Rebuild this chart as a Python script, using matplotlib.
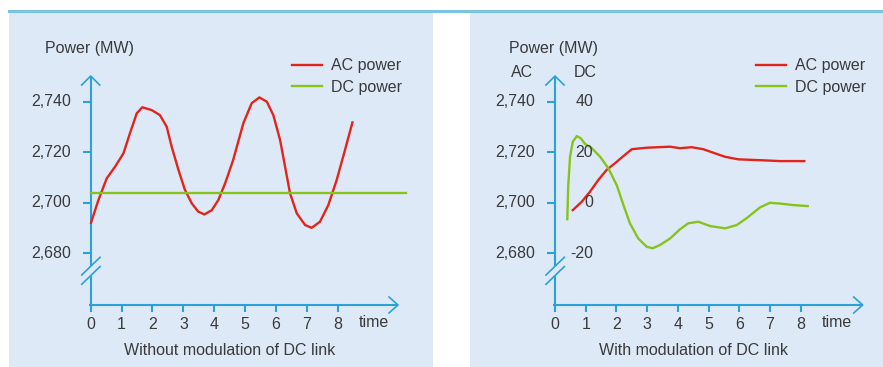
import matplotlib.pyplot as plt
import numpy as np

plt.rcParams['font.family'] = ['Liberation Sans', 'DejaVu Sans']

# left panel: without modulation (time, MW)
t_ac1 = [0.01, 0.25, 0.52, 0.79, 1.06, 1.27, 1.49, 1.67, 1.97, 2.24, 2.46, 2.62, 2.84,
         3.05, 3.27, 3.48, 3.68, 3.92, 4.13, 4.35, 4.61, 4.94, 5.21, 5.46, 5.70, 5.91,
         6.13, 6.29, 6.45, 6.67, 6.94, 7.15, 7.42, 7.69, 7.96, 8.23, 8.47]
ac1 = [2692.1, 2701.1, 2709.7, 2714.3, 2719.6, 2727.5, 2735.4, 2737.8, 2736.7, 2734.7,
       2730.1, 2722.2, 2713.0, 2705.1, 2699.8, 2696.5, 2695.4, 2697.1, 2701.1, 2707.7,
       2716.9, 2731.5, 2739.4, 2741.7, 2740.0, 2734.7, 2724.8, 2714.3, 2703.8, 2695.8,
       2691.2, 2690.1, 2692.5, 2699.1, 2709.0, 2720.9, 2731.8]
t_dc1 = [0, 10.2]
dc1 = [2704.0, 2704.0]

# right panel: with modulation
t_ac2 = [0.58, 0.87, 1.14, 1.41, 1.68, 1.95, 2.23, 2.50, 2.99, 3.75, 4.07, 4.45, 4.83,
         5.16, 5.54, 5.97, 6.79, 7.33, 8.12]
ac2 = [2697.1, 2700.4, 2704.4, 2709.0, 2713.0, 2715.6, 2718.5, 2721.2, 2721.8, 2722.2,
       2721.6, 2722.0, 2721.2, 2719.8, 2718.2, 2717.2, 2716.8, 2716.5, 2716.5]
t_dc2 = [0.40, 0.43, 0.49, 0.58, 0.71, 0.84, 0.98, 1.20, 1.47, 1.74, 2.01, 2.23, 2.44,
         2.71, 2.99, 3.18, 3.42, 3.75, 4.07, 4.34, 4.67, 5.05, 5.54, 5.92, 6.24, 6.68,
         7.00, 7.33, 7.76, 8.23]
dc2 = [-6.5, 6.4, 18.2, 24.2, 26.4, 25.5, 23.3, 21.6, 18.2, 13.6, 7.0, -0.9, -8.1,
       -14.1, -17.4, -18.0, -16.7, -14.1, -10.5, -8.1, -7.5, -9.2, -10.1, -8.8, -6.1,
       -1.8, 0.0, -0.3, -0.9, -1.3]

x_ticks = [0, 1, 2, 3, 4, 5, 6, 7, 8]
ac_ticks = [2680, 2700, 2720, 2740]
ac_labels = ['2,680', '2,700', '2,720', '2,740']
dc_ticks = [-20, 0, 20, 40]
dc_labels = ['-20', '0', '20', '40']

RED = '#e1251b'
GREEN = '#86c31c'
AXC = '#2aa1d8'
BG = '#dee9f7'
TXT = '#3a3a3a'
FS = 11.5

W, H = 883, 367
fig = plt.figure(figsize=(W / 100, H / 100), dpi=100)

# top rule
fig.add_artist(plt.Line2D([9 / W, 1], [1 - 11 / H, 1 - 11 / H], color='#7ac4e3', lw=2.2))

YS = 20 / 50.55  # data per pixel (y)


def panel(left, right, x0px, sx, arrow_px):
    ax = fig.add_axes([left / W, 0, (right - left) / W, (367 - 13) / H])
    ax.set_facecolor(BG)
    ax.set_xlim((left - x0px) / sx, (right - x0px) / sx)
    ax.set_ylim(2740 - (367 - 101.7) * YS, 2740 + (101.7 - 13) * YS)
    for s in ax.spines.values():
        s.set_visible(False)
    ax.set_xticks([])
    ax.set_yticks([])
    dx = 1 / sx
    xb = 2740 - (305 - 101.7) * YS  # x-axis level
    kw = dict(color=AXC, lw=1.5, solid_capstyle='butt', clip_on=False)
    # y axis with break
    ytop = 2740 + (101.7 - 76) * YS
    ax.plot([0, 0], [2740 - (266.3 - 101.7) * YS, ytop], **kw)
    ax.plot([0, 0], [2740 - (275.6 - 101.7) * YS, xb - 7 * YS], **kw)
    ax.plot([-9 * dx, 0, 9 * dx], [ytop - 9 * YS, ytop, ytop - 9 * YS], color=AXC, lw=1.2)
    for off in (0, 9.3):
        ax.plot([-9 * dx, 9.3 * dx], [2740 - (275 + off - 101.7) * YS,
                                       2740 - (257.3 + off - 101.7) * YS], color=AXC, lw=1.2)
    # x axis with arrow
    xend = (arrow_px - x0px) / sx
    ax.plot([-2 * dx, xend], [xb, xb], **kw)
    ax.plot([xend - 9 * dx, xend, xend - 9 * dx], [xb + 8 * YS, xb, xb - 8 * YS], color=AXC, lw=1.2)
    for xt in x_ticks:
        ax.plot([xt, xt], [xb, xb - 7 * YS], **kw)
        ax.text(xt, xb - 19 * YS, str(xt), ha='center', va='center', fontsize=FS, color=TXT)
    for yt in ac_ticks:
        ax.plot([-8 * dx, 0], [yt, yt], **kw)
    ax.text(8 + 21 * dx, xb - 17.5 * YS, 'time', ha='left', va='center', fontsize=FS, color=TXT)
    return ax, dx


LEG = dict(loc='upper left', frameon=False, fontsize=FS, handlelength=1.85,
           handletextpad=0.6, labelspacing=0.4, borderpad=0, labelcolor=TXT)
LW = dict(lw=1.7, solid_joinstyle='round')

# left panel
ax1, dx1 = panel(9, 433, 90.7, 30.9, 398)
for yt, lab in zip(ac_ticks, ac_labels):
    ax1.text(-19.5 * dx1, yt, lab, ha='right', va='center', fontsize=FS, color=TXT)
ax1.text(-45.7 * dx1, 2740 + 53.7 * YS, 'Power (MW)', ha='left', va='center', fontsize=FS, color=TXT)
ax1.plot(t_ac1, ac1, color=RED, label='AC power', **LW)
ax1.plot(t_dc1, dc1, color=GREEN, label='DC power', **LW)
ax1.text(4.5, 2740 - (350 - 101.7) * YS, 'Without modulation of DC link', ha='center',
         va='center', fontsize=FS, color=TXT)
ax1.legend(bbox_to_anchor=((284 - 9) / 424, 1 - (50.5 - 13) / 354), **LEG)

# right panel
ax2, dx2 = panel(470, 883, 555, 30.7, 862.7)
for yt, lab in zip(ac_ticks, ac_labels):
    ax2.text(-20 * dx2, yt, lab, ha='right', va='center', fontsize=FS, color=TXT)
ax2.text(-46 * dx2, 2740 + 53.7 * YS, 'Power (MW)', ha='left', va='center', fontsize=FS, color=TXT)
ax2.text(-44 * dx2, 2740 + 29.7 * YS, 'AC', ha='left', va='center', fontsize=FS, color=TXT)
ax2.text(19 * dx2, 2740 + 29.7 * YS, 'DC', ha='left', va='center', fontsize=FS, color=TXT)
ax2.plot(t_ac2, ac2, color=RED, label='AC power', **LW)
ax2.text(4.5, 2740 - (350 - 101.7) * YS, 'With modulation of DC link', ha='center',
         va='center', fontsize=FS, color=TXT)

# DC scale: 0 MW DC sits at 2,700 MW AC
ax3 = ax2.twinx()
lo, hi = ax2.get_ylim()
ax3.set_ylim(lo - 2700, hi - 2700)
ax3.axis('off')
ax3.plot(t_dc2, dc2, color=GREEN, label='DC power', **LW)
for yt, lab in zip(dc_ticks, dc_labels):
    ax3.text(38 * dx2, yt, lab, ha='right', va='center', fontsize=FS, color=TXT)

h1, l1 = ax2.get_legend_handles_labels()
h2, l2 = ax3.get_legend_handles_labels()
ax3.legend(h1 + h2, l1 + l2, bbox_to_anchor=((748 - 470) / 413, 1 - (50.5 - 13) / 354), **LEG)

fig.savefig('out.png', dpi=100)
